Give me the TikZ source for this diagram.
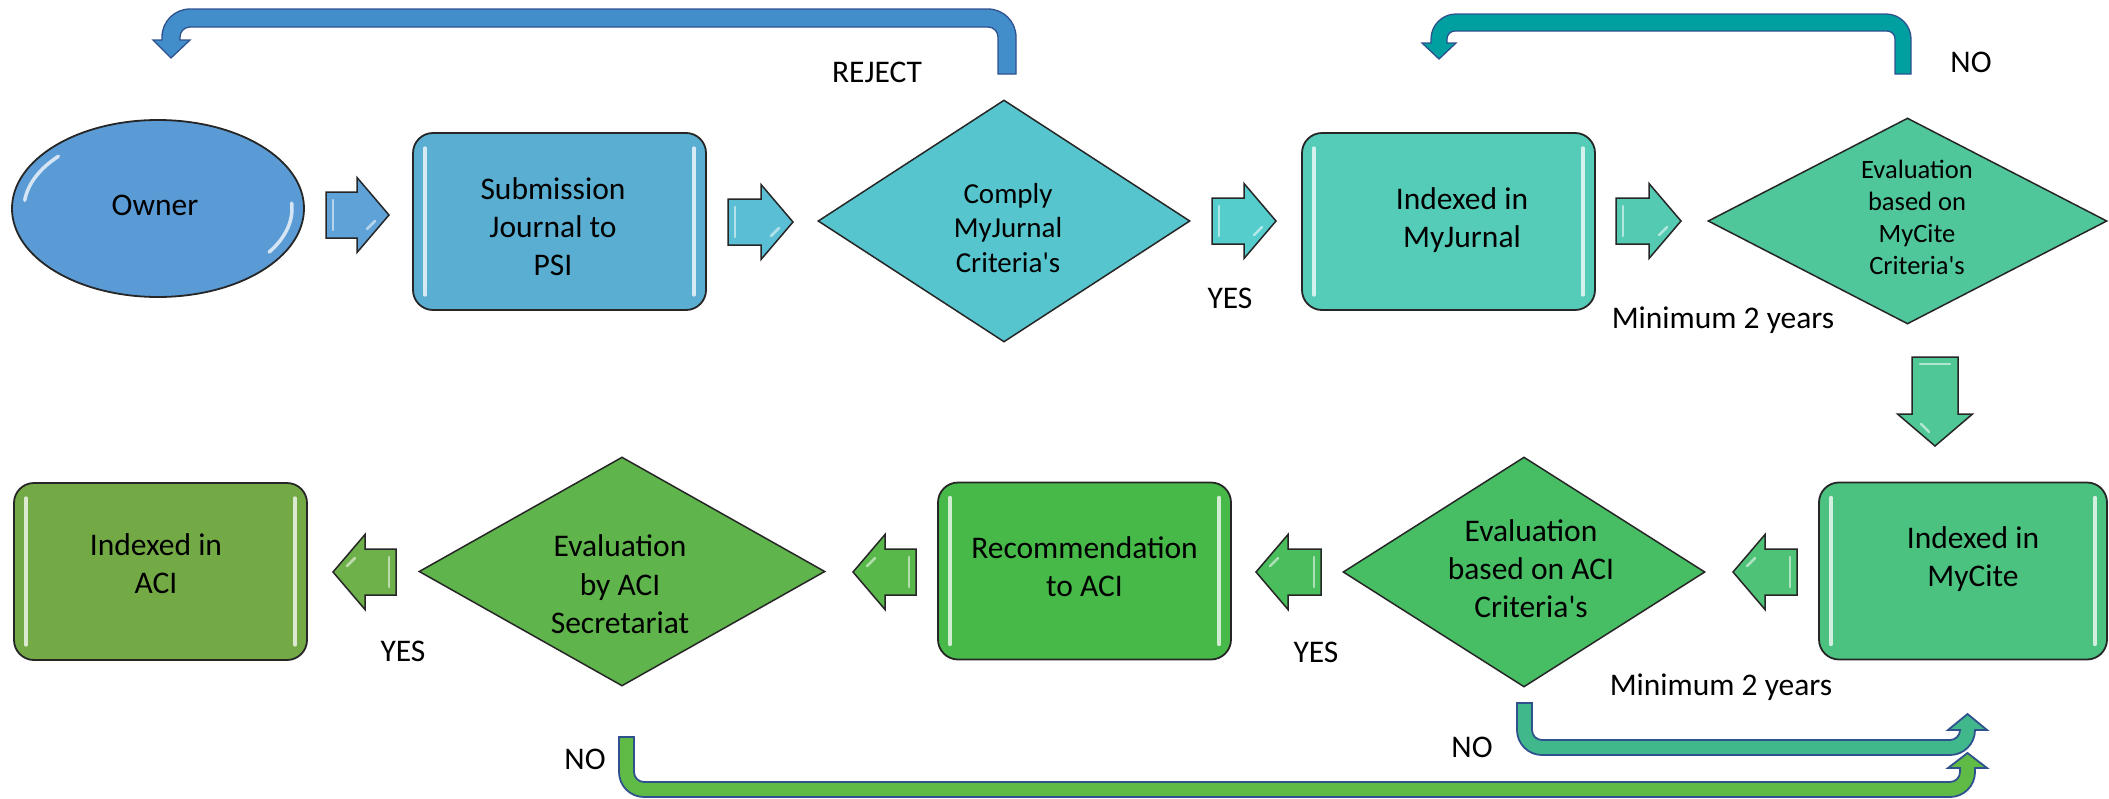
\documentclass[tikz,border=0pt]{standalone}
\usepackage{fontspec}
\setmainfont{Carlito}
\usetikzlibrary{shapes.geometric,calc}
\definecolor{cOwner}{RGB}{91,155,213}
\definecolor{cSub}{RGB}{90,174,210}
\definecolor{cDa}{RGB}{86,197,205}
\definecolor{cMJ}{RGB}{84,204,184}
\definecolor{cDb}{RGB}{80,198,155}
\definecolor{cMC}{RGB}{76,194,128}
\definecolor{cDc}{RGB}{72,190,100}
\definecolor{cRec}{RGB}{70,185,72}
\definecolor{cDd}{RGB}{95,180,75}
\definecolor{cACI}{RGB}{115,170,70}
\definecolor{cAa}{RGB}{95,162,215}
\definecolor{cAb}{RGB}{90,190,213}
\definecolor{cAc}{RGB}{86,205,205}
\definecolor{cAd}{RGB}{84,202,178}
\definecolor{cAe}{RGB}{80,200,150}
\definecolor{cAf}{RGB}{78,195,120}
\definecolor{cAg}{RGB}{74,190,92}
\definecolor{cAh}{RGB}{88,184,74}
\definecolor{cAi}{RGB}{110,176,74}
\definecolor{outl}{RGB}{47,82,143}
\definecolor{blA}{RGB}{66,142,203}
\definecolor{blB}{RGB}{34,84,128}
\definecolor{tlA}{RGB}{0,160,160}
\definecolor{tlB}{RGB}{0,92,95}
\definecolor{tlC}{RGB}{64,184,140}
\definecolor{grA}{RGB}{96,186,70}
\definecolor{grB}{RGB}{52,115,45}
\tikzset{
  txt/.style={font=\fontsize{31.5}{38}\selectfont},
  box/.style={rectangle, rounded corners=20pt, draw=black!85, line width=1.8pt,
    minimum width=293pt, minimum height=177pt, inner sep=0pt},
  ell/.style={ellipse, draw=black!85, line width=1.8pt, minimum width=292pt,
    minimum height=177pt, inner sep=0pt},
  dia/.style={diamond, draw=black!85, line width=1.5pt, inner sep=0pt},
  intext/.style={txt, align=center, inner sep=0pt},
  blk/.style={draw=black!85, line width=1.5pt},
  lbl/.style={txt, inner sep=0pt},
  hl/.style={white, opacity=.75, line width=3.5pt, line cap=round},
  glint/.style={white, opacity=.55, line width=2.5pt, line cap=round},
  band/.style={draw=outl, line width=1.3pt},
  pics/barrow/.style={code={
    \path[pic actions] (-#1,-23) -- (#1-32,-23) -- (#1-32,-37.5) -- (#1,0)
       -- (#1-32,37.5) -- (#1-32,23) -- (-#1,23) -- cycle;
    \draw[glint] (-#1+7,-15) -- (-#1+7,15);
    \draw[glint] (#1-14,6) -- (#1-22,14);}},
}
\newcommand{\boxgloss}[1]{%
  \draw[hl] ([xshift=13pt,yshift=-16pt]#1.north west) -- ([xshift=13pt,yshift=16pt]#1.south west);
  \draw[hl] ([xshift=-13pt,yshift=-16pt]#1.north east) -- ([xshift=-13pt,yshift=16pt]#1.south east);}
\newcommand{\apos}{\textquotesingle}
\begin{document}
\begin{tikzpicture}[x=1pt,y=-1pt]
\useasboundingbox (0,0) rectangle (2109,798);
% top row
\node[ell, fill=cOwner] (own) at (158,208.5) {};
\node[intext] (ownt) at ([xshift=-3pt,yshift=3.5pt]own.center) {Owner};
\draw[hl] (own.center) ++(186:134 and 78) arc[start angle=186,end angle=222,x radius=134,y radius=78];
\draw[hl] (own.center) ++(-4:134 and 78) arc[start angle=-4,end angle=34,x radius=134,y radius=78];
\node[box, fill=cSub] (sub) at (559.5,221.5) {};
\node[intext] (subt) at ([xshift=-6.5pt,yshift=-5.5pt]sub.center) {Submission\\Journal to\\PSI};
\node[dia, fill=cDa, minimum width=372pt, minimum height=242pt] (da) at (1004,221) {};
\node[intext, font=\fontsize{29}{34.5}\selectfont] (dat) at ([xshift=4pt,yshift=-7pt]da.center) {Comply\\MyJurnal\\Criteria\apos s};
\node[box, fill=cMJ] (mj) at (1448.5,221.5) {};
\node[intext] (mjt) at ([xshift=13.5pt,yshift=1.5pt]mj.center) {Indexed in\\MyJurnal};
\node[dia, fill=cDb, minimum width=399pt, minimum height=206pt] (db) at (1907.5,221) {};
\node[intext, font=\fontsize{26.5}{32}\selectfont] (dbt) at ([xshift=9.5pt,yshift=4pt]db.center) {Evaluation\\based on\\MyCite\\Criteria\apos s};
% bottom row
\node[box, fill=cMC, minimum width=288pt] (mc) at (1963,571) {};
\node[intext] (mct) at ([xshift=10pt,yshift=12pt]mc.center) {Indexed in\\MyCite};
\node[dia, fill=cDc, minimum width=362pt, minimum height=230pt] (dc) at (1524,572) {};
\node[intext] (dct) at ([xshift=7pt,yshift=3pt]dc.center) {Evaluation\\based on ACI\\Criteria\apos s};
\node[box, fill=cRec] (rec) at (1084.5,571) {};
\node[intext] (rect) at ([yshift=4pt]rec.center) {Recommendation\\to ACI};
\node[dia, fill=cDd, minimum width=406pt, minimum height=229pt] (dd) at (622,571.5) {};
\node[intext, font=\fontsize{31.5}{38.5}\selectfont] (ddt) at ([xshift=-2pt,yshift=-13pt]dd.center) {Evaluation\\by ACI\\Secretariat};
\node[box, fill=cACI] (aci) at (160.5,571.5) {};
\node[intext] (acit) at ([xshift=-4.5pt,yshift=8pt]aci.center) {Indexed in\\ACI};
\boxgloss{sub}\boxgloss{mj}\boxgloss{mc}\boxgloss{rec}\boxgloss{aci}
% block arrows
\pic[blk, fill=cAa] (aa) at (357.5,215) {barrow=31.5};
\pic[blk, fill=cAb] (ab) at (760.5,222) {barrow=32.5};
\pic[blk, fill=cAc] (ac) at (1244,221) {barrow=32};
\pic[blk, fill=cAd] (ad) at (1648.5,221) {barrow=32.5};
\pic[blk, fill=cAe, rotate=-90] (ae) at (1935,401.5) {barrow=44.5};
\pic[blk, fill=cAf, rotate=180] (af) at (1765,572) {barrow=32};
\pic[blk, fill=cAg, rotate=180] (ag) at (1288.5,572) {barrow=32.5};
\pic[blk, fill=cAh, rotate=180] (ah) at (884.5,572) {barrow=31.5};
\pic[blk, fill=cAi, rotate=180] (ai) at (364.5,572) {barrow=31.5};
% bent arrows
\path[band, left color=blA, middle color=blB, right color=blA]
  (1016,74) -- (1016,37) arc[start angle=0,end angle=-90,radius=28] -- (190,9)
  arc[start angle=-90,end angle=-180,radius=28] -- (162,40) -- (153,40) -- (171,58) -- (190,40) -- (180,40) -- (180,37)
  arc[start angle=180,end angle=270,radius=10] -- (988,27) arc[start angle=270,end angle=360,radius=10] -- (998,74) -- cycle;
\path[band, left color=tlA, middle color=tlB, right color=tlA]
  (1911,74) -- (1911,39) arc[start angle=0,end angle=-90,radius=25] -- (1456,14)
  arc[start angle=-90,end angle=-180,radius=25] -- (1431,43) -- (1422,43) -- (1439,59) -- (1456,43) -- (1447,43) -- (1447,39)
  arc[start angle=180,end angle=270,radius=8] -- (1887,31) arc[start angle=270,end angle=360,radius=8] -- (1895,74) -- cycle;
\path[band, line width=1.8pt, fill=tlC]
  (1517,703) -- (1517,730) arc[start angle=180,end angle=90,radius=25] -- (1950,755)
  arc[start angle=90,end angle=0,radius=25] -- (1987,730) -- (1967.5,714) -- (1948,730) -- (1960,730)
  arc[start angle=0,end angle=90,radius=10] -- (1542,740) arc[start angle=90,end angle=180,radius=10] -- (1532,703) -- cycle;
\path[band, line width=1.8pt, left color=grA, middle color=grB, right color=grA]
  (619,737) -- (619,772) arc[start angle=180,end angle=90,radius=25] -- (1950,797)
  arc[start angle=90,end angle=0,radius=25] -- (1975,768) -- (1987,768) -- (1967.5,753) -- (1948,768) -- (1960,768) -- (1960,772)
  arc[start angle=0,end angle=90,radius=10] -- (644,782) arc[start angle=90,end angle=180,radius=10] -- (634,737) -- cycle;
% labels
\node[lbl] (lrej) at (877,72) {REJECT};
\node[lbl] (lyesa) at (1230,298) {YES};
\node[lbl] (lnoa) at (1971,62) {NO};
\node[lbl] (lmina) at (1723,320) {Minimum 2 years};
\node[lbl] (lyesb) at (1316,652) {YES};
\node[lbl] (lminb) at (1721,687) {Minimum 2 years};
\node[lbl] (lyesc) at (403,651) {YES};
\node[lbl] (lnob) at (585,759) {NO};
\node[lbl] (lnoc) at (1472,747) {NO};
\end{tikzpicture}
\end{document}
